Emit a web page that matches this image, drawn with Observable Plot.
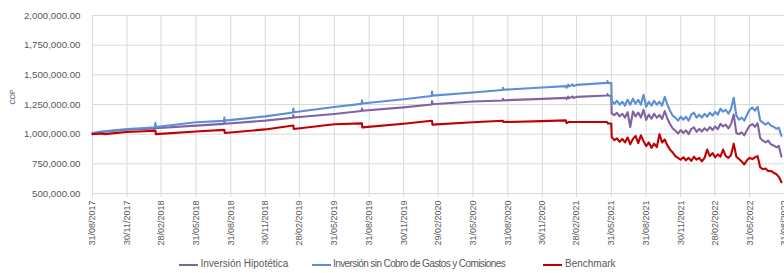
<!DOCTYPE html>
<html>
<head>
<meta charset="utf-8">
<script src="https://cdn.jsdelivr.net/npm/d3@7"></script>
<script src="https://cdn.jsdelivr.net/npm/@observablehq/plot@0.6"></script>
<style>
  body { margin: 0; background: #fff; font-family: "Liberation Sans", Arial, sans-serif; }
  #chart { position: relative; width: 784px; height: 273px; overflow: hidden; }
  .legend { position: relative; height: 21px; font-size: 10px; color: #595959; }
  .sw { position: absolute; top: 12px; width: 19px; height: 2px; }
  .lab { position: absolute; top: 6px; white-space: nowrap; line-height: 12px; }
</style>
</head>
<body>
<div id="chart"></div>
<script>
const seriesNames = ["Inversión Hipotética", "Inversión sin Cobro de Gastos y Comisiones", "Benchmark"];
const seriesColors = ["#8064a2", "#5b8fd6", "#c00000"];

const tickDates = ["2017-08-31","2017-11-30","2018-02-28","2018-05-31","2018-08-31","2018-11-30","2019-02-28","2019-05-31","2019-08-31","2019-11-30","2020-02-29","2020-05-31","2020-08-31","2020-11-30","2021-02-28","2021-05-31","2021-08-31","2021-11-30","2022-02-28","2022-05-31","2022-08-31"];
const yTicks = [500000, 750000, 1000000, 1250000, 1500000, 1750000, 2000000];

const dates = [
"2017-08-31","2017-09-25","2017-10-01","2017-11-30","2018-01-15","2018-02-12","2018-02-13","2018-02-14","2018-05-31","2018-08-13","2018-08-14","2018-08-15","2018-11-30",
"2019-02-11","2019-02-12","2019-02-13","2019-05-31","2019-08-11","2019-08-12","2019-08-13","2019-11-30","2020-02-12","2020-02-13","2020-02-14","2020-05-31",
"2020-08-17","2020-08-18","2020-08-19","2020-11-30","2021-01-31","2021-02-02","2021-02-06","2021-02-08","2021-02-18","2021-02-20","2021-02-28","2021-05-20","2021-05-21","2021-05-22","2021-05-31",
"2021-06-01","2021-06-08","2021-06-15","2021-06-22","2021-06-29","2021-07-06","2021-07-13","2021-07-20","2021-07-27","2021-08-03","2021-08-10","2021-08-17","2021-08-24","2021-08-31",
"2021-09-07","2021-09-14","2021-09-21","2021-09-28","2021-10-05","2021-10-12","2021-10-19","2021-10-26","2021-11-02","2021-11-09","2021-11-16","2021-11-23","2021-11-30",
"2021-12-07","2021-12-14","2021-12-21","2021-12-28","2022-01-04","2022-01-11","2022-01-18","2022-01-25","2022-02-01","2022-02-08","2022-02-15","2022-02-22","2022-03-01",
"2022-03-08","2022-03-15","2022-03-22","2022-03-29","2022-04-05","2022-04-12","2022-04-19","2022-04-26","2022-05-03","2022-05-10","2022-05-17","2022-05-24","2022-05-31",
"2022-06-07","2022-06-14","2022-06-21","2022-06-28","2022-07-05","2022-07-12","2022-07-19","2022-07-26","2022-08-02","2022-08-09","2022-08-16","2022-08-23"
];

const hipotetica = [
1008000,1018000,1020000,1037000,1044000,1049000,1075000,1050000,1072000,1087000,1105000,1088000,1114000,
1138000,1160000,1140000,1170000,1195000,1215000,1197000,1226000,1250000,1278000,1252000,1275000,
1284000,1298000,1285000,1297000,1306000,1296000,1316000,1302000,1318000,1305000,1314000,1326000,1338000,1326000,1322000,
1175000,1160000,1180000,1150000,1172000,1140000,1185000,1060000,1190000,1150000,1182000,1140000,1205000,1120000,
1165000,1130000,1172000,1138000,1162000,1128000,1195000,1130000,1085000,1048000,1030000,1005000,1035000,
1010000,1032000,1000000,1045000,1058000,1020000,1045000,1022000,1050000,1030000,1060000,1035000,1065000,
1042000,1088000,1065000,1080000,1048000,1085000,1165000,1010000,1000000,1015000,990000,1035000,1070000,
1085000,1062000,1092000,965000,945000,930000,945000,915000,905000,890000,900000,810000
];

const sinCobro = [
1010000,1022000,1024000,1044000,1052000,1058000,1095000,1060000,1100000,1112000,1140000,1114000,1150000,
1182000,1215000,1185000,1229000,1255000,1285000,1258000,1294000,1322000,1360000,1325000,1351000,
1372000,1390000,1374000,1393000,1405000,1390000,1418000,1402000,1420000,1405000,1415000,1432000,1448000,1432000,1430000,
1280000,1256000,1282000,1248000,1273000,1240000,1290000,1248000,1298000,1256000,1290000,1248000,1332000,1231000,
1273000,1240000,1282000,1248000,1273000,1240000,1315000,1248000,1198000,1156000,1139000,1114000,1147000,
1122000,1147000,1114000,1164000,1181000,1139000,1164000,1139000,1172000,1147000,1181000,1156000,1189000,
1164000,1214000,1189000,1206000,1172000,1214000,1307000,1156000,1122000,1139000,1114000,1164000,1206000,
1223000,1198000,1231000,1114000,1097000,1080000,1097000,1072000,1063000,1046000,1055000,985000
];

const benchmark = [
1000000,1006000,1000000,1018000,1025000,1030000,1030000,1000000,1022000,1036000,1036000,1010000,1040000,
1073000,1073000,1044000,1084000,1091000,1091000,1057000,1088000,1113000,1113000,1080000,1100000,
1113000,1113000,1102000,1110000,1116000,1093000,1100000,1102000,1102000,1102000,1102000,1102000,1098000,1090000,1090000,
975000,950000,965000,935000,960000,930000,972000,915000,960000,985000,925000,990000,940000,900000,
930000,885000,920000,890000,1000000,930000,955000,905000,870000,845000,815000,800000,785000,
805000,780000,800000,775000,810000,785000,800000,770000,800000,870000,815000,840000,805000,
830000,810000,870000,815000,800000,825000,920000,810000,790000,770000,745000,780000,800000,
790000,805000,815000,720000,705000,710000,690000,690000,675000,665000,640000,595000
];

const parse = d3.utcParse("%Y-%m-%d");
const xDates = dates.map(parse);
const xTicks = tickDates.map(parse);
const values = [hipotetica, sinCobro, benchmark];

const gridColor = "#d9d9d9";
const textColor = "#595959";

const plot = Plot.plot({
  width: 784,
  height: 252,
  marginLeft: 92,
  marginRight: 0,
  marginTop: 15,
  marginBottom: 59,
  style: { fontFamily: "'Liberation Sans', Arial, sans-serif", color: textColor, background: "#fff" },
  x: { type: "utc", domain: [xTicks[0], xTicks[xTicks.length - 1]] },
  y: { domain: [500000, 2000000] },
  marks: [
    Plot.gridY(yTicks, { stroke: gridColor, strokeOpacity: 1, strokeWidth: 1 }),
    Plot.gridX(xTicks, { stroke: gridColor, strokeOpacity: 1, strokeWidth: 1 }),
    Plot.axisY(yTicks, { tickSize: 0, tickPadding: 12, tickFormat: d3.format(",.2f"), fontSize: 9.7, fill: textColor, label: null }),
    Plot.axisX(xTicks, { tickRotate: -90, tickSize: 4, tickPadding: 3, stroke: gridColor, tickFormat: d3.utcFormat("%d/%m/%Y"), fontSize: 9, fill: textColor, label: null }),
    Plot.text(["COP"], { frameAnchor: "left", dx: -80, rotate: -90, fontSize: 7, fill: "#44546a" }),
    ...values.map((vals, k) => Plot.lineY(vals, { x: (d, i) => xDates[i], y: d => d, stroke: seriesColors[k], strokeWidth: 2.1 }))
  ]
});

const chart = document.getElementById("chart");
chart.appendChild(plot);

// legend placement (swatch left, label left, letter-spacing) per item
const legendLayout = [[179, 200.5, 0], [311.5, 333, -0.6], [543, 565, 0]];
const legend = document.createElement("div");
legend.className = "legend";
seriesNames.forEach((name, k) => {
  const [sx, tx, ls] = legendLayout[k];
  const sw = document.createElement("div");
  sw.className = "sw";
  sw.style.left = sx + "px";
  sw.style.background = seriesColors[k];
  const label = document.createElement("span");
  label.className = "lab";
  label.style.left = tx + "px";
  label.style.letterSpacing = ls + "px";
  label.textContent = name;
  legend.appendChild(sw);
  legend.appendChild(label);
});
chart.appendChild(legend);
</script>
</body>
</html>
